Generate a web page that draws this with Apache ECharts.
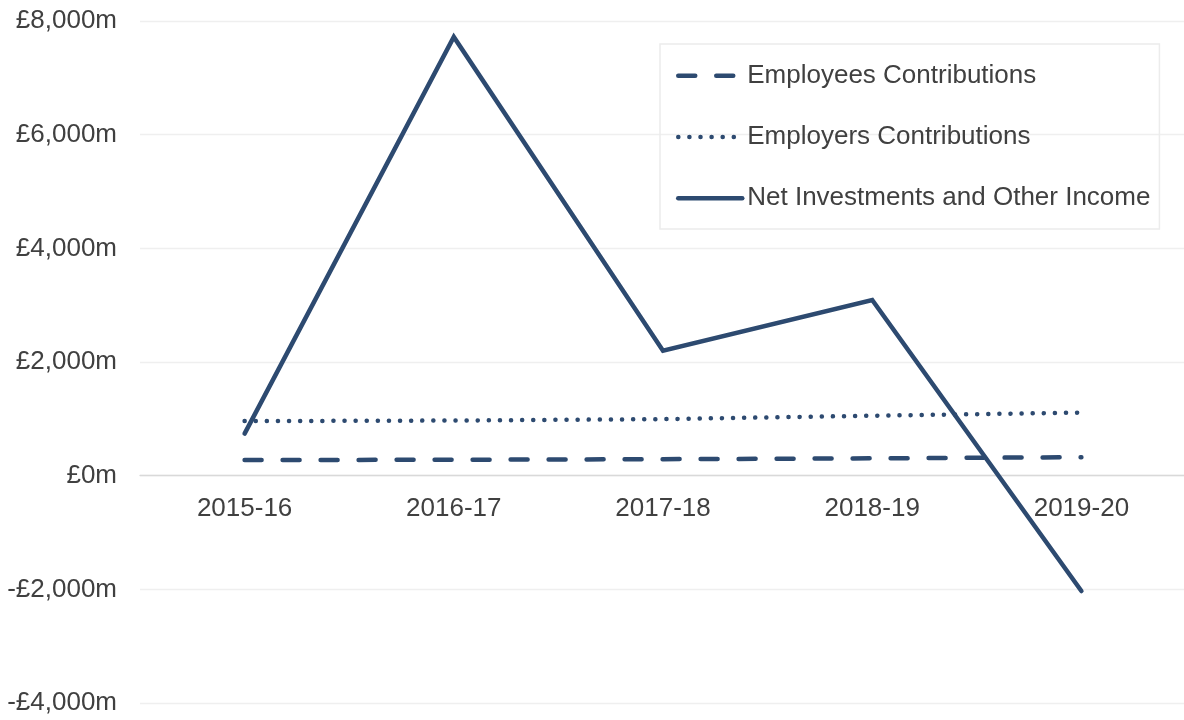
<!DOCTYPE html>
<html>
<head>
<meta charset="utf-8">
<script src="https://cdn.jsdelivr.net/npm/echarts@6/dist/echarts.min.js"></script>
<style>
html,body{margin:0;padding:0;background:#fff;}
#chart{width:1184px;height:720px;}
</style>
</head>
<body>
<div id="chart"></div>
<script>
const categories = ['2015-16', '2016-17', '2017-18', '2018-19', '2019-20'];
const employeesContributions = [275, 280, 290, 305, 325];
const employersContributions = [960, 970, 995, 1055, 1110];
const netInvestmentsIncome = [740, 7720, 2200, 3090, -2030];
const yTicks = { min: -4000, max: 8000, interval: 2000 };
const seriesNames = ['Employees Contributions', 'Employers Contributions', 'Net Investments and Other Income'];

const FONT = '"Liberation Sans", Arial, sans-serif';
const TEXT = '#404040';
const LINE = '#2d4a70';

const GRID_TOP = 21, GRID_HEIGHT = 682;
// place the category axis on the zero value line
const zeroOffset = -GRID_HEIGHT * (0 - yTicks.min) / (yTicks.max - yTicks.min);

function fmt(v) {
  const s = Math.abs(v).toLocaleString('en-GB');
  return (v < 0 ? '-' : '') + '£' + s + 'm';
}

const chart = echarts.init(document.getElementById('chart'), null, { renderer: 'canvas' });
chart.setOption({
  animation: false,
  backgroundColor: '#ffffff',
  textStyle: { fontFamily: FONT },
  grid: { left: 140, top: GRID_TOP, width: 1046, height: GRID_HEIGHT, containLabel: false, outerBoundsMode: 'none' },
  legend: {
    orient: 'vertical',
    left: 660,
    top: 44,
    padding: [18.7, 9, 17.7, 16],
    itemWidth: 64,
    itemHeight: 26,
    itemGap: 35.3,
    borderColor: '#ececec',
    borderWidth: 1.5,
    itemStyle: { opacity: 0 },
    lineStyle: { width: 4.5, cap: 'round' },
    textStyle: { fontSize: 26, color: TEXT, fontFamily: FONT, lineHeight: 26 },
    data: seriesNames
  },
  xAxis: {
    type: 'category',
    data: categories,
    boundaryGap: true,
    offset: zeroOffset,
    axisLine: { show: true, onZero: false, lineStyle: { color: '#d9d9d9', width: 1.3 } },
    axisTick: { show: false },
    axisLabel: { fontSize: 26, color: TEXT, margin: 20, fontFamily: FONT },
    splitLine: { show: false }
  },
  yAxis: {
    type: 'value',
    min: yTicks.min,
    max: yTicks.max,
    interval: yTicks.interval,
    axisLine: { show: false },
    axisTick: { show: false },
    axisLabel: { fontSize: 26, color: TEXT, margin: 23, fontFamily: FONT, formatter: fmt, padding: [4, 0, 0, 0] },
    splitLine: { show: true, lineStyle: { color: '#efefef', width: 1.3 } }
  },
  series: [
    {
      name: seriesNames[0],
      type: 'line',
      data: employeesContributions,
      symbol: 'none',
      z: 3,
      itemStyle: { color: LINE },
      lineStyle: { color: LINE, width: 4.5, type: [17, 21], cap: 'round', join: 'round' }
    },
    {
      name: seriesNames[1],
      type: 'line',
      data: employersContributions,
      symbol: 'none',
      z: 3,
      itemStyle: { color: LINE },
      lineStyle: { color: LINE, width: 4.5, type: [0.1, 11], cap: 'round', join: 'round' }
    },
    {
      name: seriesNames[2],
      type: 'line',
      data: netInvestmentsIncome,
      symbol: 'none',
      z: 4,
      itemStyle: { color: LINE },
      lineStyle: { color: LINE, width: 4.5, type: 'solid', cap: 'round', join: 'miter' }
    }
  ]
});
</script>
</body>
</html>
